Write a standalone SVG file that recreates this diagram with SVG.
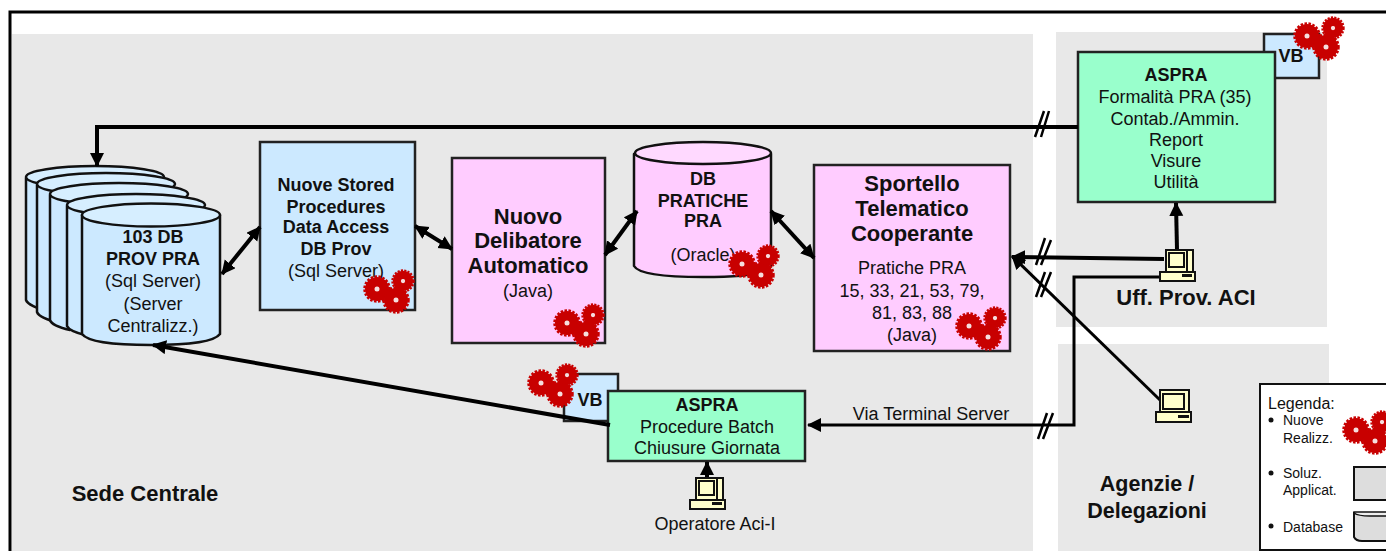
<svg xmlns="http://www.w3.org/2000/svg" width="1386" height="551" viewBox="0 0 1386 551">
<style>
text{font-family:"Liberation Sans",Arial,sans-serif;fill:#111;text-anchor:middle;font-size:18px}
.b{font-weight:bold}
.h{font-weight:bold;font-size:22px}
.big{font-weight:bold;font-size:21.500px}
.l{font-size:14px;text-anchor:start}
.zone{fill:#e8e8e8}
.box{stroke:#222;stroke-width:2.5}
.blue{fill:#cce9ff}.pink{fill:#ffccff}.green{fill:#99ffcc}
.cyl{stroke:#111;stroke-width:2.5;stroke-linejoin:round}
.top{fill:#d6eeff;stroke:#111;stroke-width:2.5}
.c{fill:none;stroke:#000;stroke-width:4}
.t{fill:none;stroke:#000;stroke-width:3}
.s{fill:none;stroke:#000;stroke-width:2.5}
.cf{fill:#ffffcc;stroke:#111;stroke-width:2}
</style>
<defs>
<marker id="a" markerUnits="userSpaceOnUse" markerWidth="16" markerHeight="16" refX="13" refY="7" orient="auto-start-reverse"><path d="M0 0L14 7L0 14Z" fill="#000"/></marker>
<g id="gear"><circle r="7" fill="none" stroke="#c80000" stroke-width="10"/><circle r="12.500" fill="none" stroke="#c80000" stroke-width="2.500" stroke-dasharray="2.500 1.500"/><circle r="2.500" fill="#f6dede"/></g>
<g id="gears"><use href="#gear" x="-13" y="-1"/><use href="#gear" transform="translate(13 -9) scale(.85)"/><use href="#gear" x="6" y="10"/></g>
<g id="pc">
<rect x="6" y="0" width="27" height="23" class="cf"/>
<rect x="6" y="0" width="21" height="22" class="cf"/>
<rect x="9" y="3" width="15" height="14" fill="#ffffcc" stroke="#111" stroke-width="2"/>
<rect x="0" y="22" width="35" height="9" class="cf"/>
<rect x="22" y="24" width="10" height="3" fill="#111"/>
</g>
<g id="pc2">
<rect x="4" y="0" width="29" height="23" class="cf"/>
<rect x="7" y="4" width="21" height="15" fill="#ffffcc" stroke="#111" stroke-width="2"/>
<rect x="0" y="22" width="35" height="10" class="cf"/>
<rect x="22" y="25" width="11" height="3" fill="#111"/>
</g>
</defs>
<rect x="10" y="12" width="1380" height="545" fill="#fff" stroke="#000" stroke-width="3"/>
<rect class="zone" x="12" y="34" width="1021" height="517"/>
<rect class="zone" x="1056" y="32" width="271" height="295"/>
<rect class="zone" x="1058" y="344" width="271" height="207"/>

<g id="db-prov">
<path class="cyl blue" d="M26 178V300Q28 306 50 312V178Z"/>
<ellipse class="top" cx="95" cy="177" rx="69" ry="11"/>
<path class="cyl blue" d="M37 185V312Q39 318 60 323V185Z"/>
<ellipse class="top" cx="106" cy="184" rx="69" ry="11"/>
<path class="cyl blue" d="M50 195V320Q52 326 70 330V195Z"/>
<ellipse class="top" cx="119" cy="194" rx="69" ry="11"/>
<path class="cyl blue" d="M67 206V326Q69 331 85 335V206Z"/>
<ellipse class="top" cx="136" cy="205" rx="69" ry="11"/>
<path class="cyl blue" d="M82 215V334Q90 345 151 345Q212 345 220 334V215Z"/>
<ellipse class="top" cx="151" cy="215" rx="69" ry="11.500"/>
<text x="153" y="243" class="b">103 DB</text>
<text x="153" y="265" class="b">PROV PRA</text>
<text x="153" y="287">(Sql Server)</text>
<text x="153" y="310">(Server</text>
<text x="153" y="332">Centralizz.)</text>
</g>

<g id="stored">
<rect class="box blue" x="260" y="142" width="155" height="168"/>
<text x="336" y="191" class="b">Nuove Stored</text>
<text x="336" y="213" class="b">Procedures</text>
<text x="336" y="233" class="b">Data Access</text>
<text x="336" y="255" class="b">DB Prov</text>
<text x="336" y="277">(Sql Server)</text>
<use href="#gears" x="390" y="290"/>
</g>

<g id="delibatore">
<rect class="box pink" x="452" y="158" width="153" height="185"/>
<text x="528" y="224" class="h">Nuovo</text>
<text x="528" y="248" class="h">Delibatore</text>
<text x="528" y="273" class="h">Automatico</text>
<text x="528" y="297">(Java)</text>
<use href="#gears" x="580" y="324"/>
</g>

<g id="db-pratiche">
<path class="cyl pink" d="M634 154V266Q640 277 703 277Q766 277 771 266V154Z"/>
<ellipse class="cyl" fill="#ffd9ff" cx="703" cy="153" rx="68" ry="11"/>
<text x="703" y="185" class="b">DB</text>
<text x="703" y="207" class="b">PRATICHE</text>
<text x="703" y="227" class="b">PRA</text>
<text x="703" y="261">(Oracle)</text>
<use href="#gears" x="755" y="265"/>
</g>

<g id="sportello">
<rect class="box pink" x="814" y="165" width="196" height="186"/>
<text x="912" y="191" class="h">Sportello</text>
<text x="912" y="216" class="h">Telematico</text>
<text x="912" y="241" class="h">Cooperante</text>
<text x="912" y="274">Pratiche PRA</text>
<text x="912" y="297">15, 33, 21, 53, 79,</text>
<text x="912" y="319">81, 83, 88</text>
<text x="912" y="341">(Java)</text>
<use href="#gears" x="982" y="327"/>
</g>

<g id="aspra-uff">
<rect class="box blue" x="1264" y="34" width="55" height="44"/>
<text x="1291" y="62" class="b">VB</text>
<rect class="box green" x="1078" y="52" width="197" height="150"/>
<text x="1176" y="81" class="b">ASPRA</text>
<text x="1175" y="103">Formalità PRA (35)</text>
<text x="1175" y="125">Contab./Ammin.</text>
<text x="1176" y="146">Report</text>
<text x="1176" y="167">Visure</text>
<text x="1176" y="188">Utilità</text>
<use href="#gears" x="1320" y="37"/>
</g>

<g id="aspra-batch">
<rect class="box blue" x="564" y="374" width="54" height="47"/>
<text x="590" y="406" class="b">VB</text>
<rect class="box green" x="608" y="391" width="197" height="70"/>
<text x="707" y="411" class="b">ASPRA</text>
<text x="707" y="433">Procedure Batch</text>
<text x="707" y="454">Chiusure Giornata</text>
<use href="#gears" x="554" y="384"/>
</g>

<g id="connectors">
<path class="c" d="M1078 127H97V166" marker-end="url(#a)"/>
<path class="c" d="M222 274L260 227" marker-start="url(#a)" marker-end="url(#a)"/>
<path class="c" d="M415 226L452 249" marker-start="url(#a)" marker-end="url(#a)"/>
<path class="c" d="M605 255L637 211" marker-start="url(#a)" marker-end="url(#a)"/>
<path class="c" d="M771 211L814 258" marker-start="url(#a)" marker-end="url(#a)"/>
<path class="c" d="M1164 259L1012 257" marker-end="url(#a)"/>
<path class="t" d="M1160 400L1012 256" marker-end="url(#a)"/>
<path class="t" d="M1163 277H1074V425H808" marker-end="url(#a)"/>
<path class="c" d="M1177 250L1176 203" marker-end="url(#a)"/>
<path class="c" d="M610 425L153 345" marker-end="url(#a)"/>
<path class="c" d="M707 477V462" marker-end="url(#a)"/>
<path class="s" d="M1035 137L1044 111M1041 137L1049 111M1036 265L1045 238M1041 265L1051 240M1036 297L1045 272M1041 297L1051 272M1038 439L1047 413M1043 439L1053 413"/>
</g>

<g id="uff-prov"><use href="#pc" x="1160" y="250"/><text x="1186" y="305" class="h">Uff. Prov. ACI</text></g>
<g id="agenzie"><use href="#pc2" x="1156" y="390"/><text x="1147" y="491" class="big">Agenzie /</text><text x="1147" y="518" class="big">Delegazioni</text></g>
<g id="operatore"><use href="#pc" x="690" y="478"/><text x="715" y="530">Operatore Aci-I</text></g>
<text x="145" y="501" class="h">Sede Centrale</text>
<text x="931" y="420">Via Terminal Server</text>

<g id="legenda">
<rect x="1260" y="384" width="135" height="166" fill="#fff" stroke="#111" stroke-width="2"/>
<text x="1268" y="409" class="l" style="font-size:16px">Legenda:</text>
<circle cx="1271" cy="420" r="2.500" fill="#111"/><text x="1283" y="425" class="l">Nuove</text><text x="1283" y="443" class="l">Realizz.</text>
<circle cx="1271" cy="473" r="2.500" fill="#111"/><text x="1283" y="478" class="l">Soluz.</text><text x="1283" y="495" class="l">Applicat.</text>
<circle cx="1271" cy="526" r="2.500" fill="#111"/><text x="1283" y="532" class="l">Database</text>
<use href="#gears" x="1369" y="431"/>
<rect x="1354" y="467" width="40" height="33" fill="#ddd" stroke="#111" stroke-width="2"/>
<path d="M1354 513V537Q1356 541 1362 541H1390V513Z" fill="#ddd" stroke="#111" stroke-width="2"/>
<path d="M1354 513Q1358 516 1370 516H1390V512H1354Z" fill="#eee" stroke="#111" stroke-width="1.500"/>
</g>
</svg>
